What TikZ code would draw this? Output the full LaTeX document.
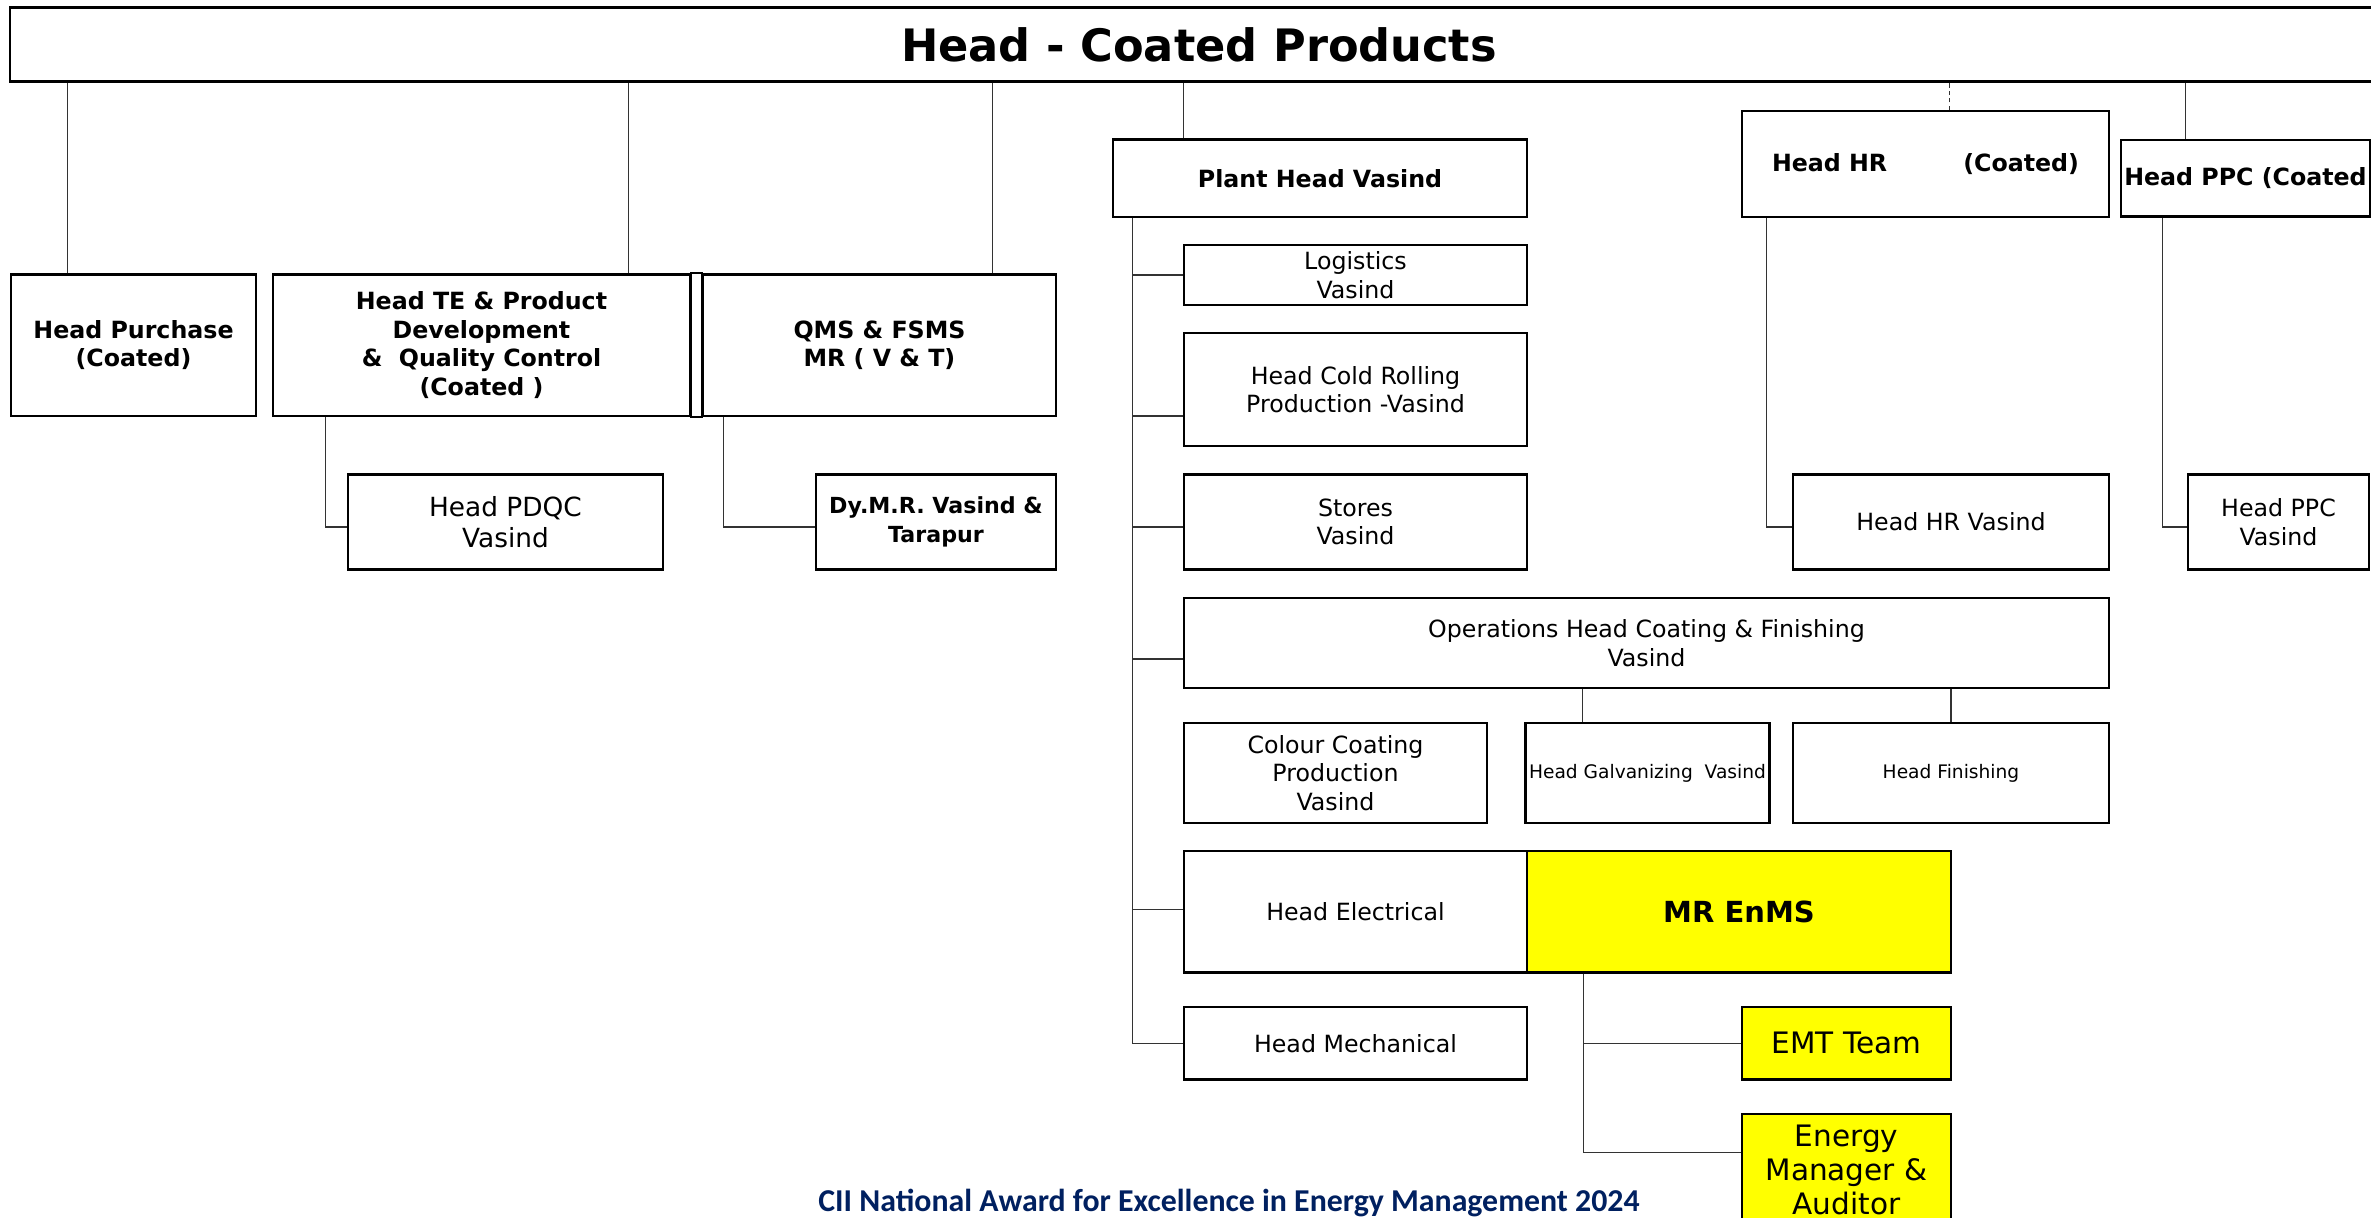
\documentclass[tikz,border=0pt]{standalone}
\usepackage{fontspec}
\setmainfont{DejaVu Sans}
\newfontfamily\awardfont{Carlito}
\usetikzlibrary{positioning, calc}
\definecolor{awardblue}{RGB}{0,32,96}
\definecolor{enmsyellow}{RGB}{255,255,0}

\begin{document}
\begin{tikzpicture}[
        x=0.01cm, y=-0.01cm,
        box/.style={rectangle, draw=black, line width=0.65pt, inner sep=1pt, align=center, font=\fontsize{6.74}{8.1}\selectfont},
        bbox/.style={box, font=\fontsize{6.74}{8.1}\selectfont\bfseries},
        small/.style={box, font=\fontsize{5.3}{6.4}\selectfont},
        hl/.style={box, fill=enmsyellow, font=\fontsize{8.4}{9.7}\selectfont},
        link/.style={draw=black!80, line width=0.3pt}
    ]
        \useasboundingbox (0,0) rectangle (2371,1218);
        \clip (0,0) rectangle (2371,1218);
        \fill[white] (0,0) rectangle (2371,1218);
        \node[bbox, minimum width=23.76cm, minimum height=0.74cm, font=\fontsize{12.7}{15}\selectfont\bfseries] (top) at (1199,44.5) {Head - Coated Products};
        \node[bbox, minimum width=2.45cm, minimum height=1.415cm] (purchase) at (133.5,345.25) {Head Purchase\\(Coated)};
        \node[bbox, minimum width=4.17cm, minimum height=1.415cm] (te) at (481.5,345.25) {Head TE \& Product\\Development\\\&\ \ Quality Control\\(Coated )};
        \node[bbox, minimum width=3.53cm, minimum height=1.415cm] (qms) at (879.5,345.25) {QMS \& FSMS\\MR ( V \& T)};
        \draw[line width=0.65pt] (te.north east) rectangle (qms.south west);
        \node[box, minimum width=3.15cm, minimum height=0.95cm, font=\fontsize{7.5}{8.9}\selectfont] (pdqc) at (505.5,522) {Head PDQC\\Vasind};
        \node[bbox, minimum width=2.40cm, minimum height=0.95cm, font=\fontsize{6.3}{8.1}\selectfont\bfseries] (dymr) at (936,522) {Dy.M.R. Vasind \&\\Tarapur};
        \node[bbox, minimum width=4.14cm, minimum height=0.775cm] (plant) at (1320,178.25) {Plant Head Vasind};
        \node[box, minimum width=3.43cm, minimum height=0.60cm] (logistics) at (1355.5,275) {Logistics\\Vasind};
        \node[box, minimum width=3.43cm, minimum height=1.13cm] (coldroll) at (1355.5,389.5) {Head Cold Rolling\\Production -Vasind};
        \node[box, minimum width=3.43cm, minimum height=0.95cm] (stores) at (1355.5,522) {Stores\\Vasind};
        \node[box, minimum width=9.25cm, minimum height=0.90cm] (ops) at (1646.5,643) {Operations Head Coating \& Finishing\\Vasind};
        \node[box, minimum width=3.03cm, minimum height=1.0cm] (colour) at (1335.5,773) {Colour Coating\\Production\\Vasind};
        \node[small, minimum width=2.41cm, minimum height=1.0cm] (galv) at (1647.5,773) {Head Galvanizing\ \ Vasind};
        \node[small, minimum width=3.16cm, minimum height=1.0cm] (finish) at (1951,773) {Head Finishing};
        \node[box, minimum width=3.43cm, minimum height=1.215cm] (elec) at (1355.5,911.75) {Head Electrical};
        \node[hl, minimum width=4.24cm, minimum height=1.215cm, font=\fontsize{8.25}{9.7}\selectfont\bfseries] (enms) at (1739,911.75) {MR EnMS};
        \node[box, minimum width=3.43cm, minimum height=0.725cm] (mech) at (1355.5,1043.25) {Head Mechanical};
        \node[hl, minimum width=2.09cm, minimum height=0.725cm] (emt) at (1846.5,1043.25) {EMT Team};
        \node[hl, minimum width=2.09cm, minimum height=1.12cm] (energy) at (1846.5,1170) {Energy\\Manager \&\\Auditor};
        \node[bbox, minimum width=3.67cm, minimum height=1.06cm] (hr) at (1925.5,164) {Head HR\hspace{0.76cm}(Coated)};
        \node[bbox, minimum width=2.47cm, minimum height=0.765cm] (ppc) at (2245.5,178.25) {Head PPC (Coated};
        \node[box, minimum width=3.16cm, minimum height=0.95cm] (hrvas) at (1951,522) {Head HR Vasind};
        \node[box, minimum width=1.81cm, minimum height=0.95cm] (ppcvas) at (2278.5,522) {Head PPC\\Vasind};
        \node[font=\awardfont\fontsize{9.05}{10}\selectfont\bfseries, text=awardblue, anchor=base, inner sep=0pt] (award) at (1229,1211.5) {CII National Award for Excellence in Energy Management 2024};
        \draw[link] ([xshift=0.58cm]purchase.north west) -- ([xshift=0.58cm]purchase.north west |- top.south);
        \draw[link] ([xshift=-0.63cm]te.north east) -- ([xshift=-0.63cm]te.north east |- top.south);
        \draw[link] ([xshift=-0.65cm]qms.north east) -- ([xshift=-0.65cm]qms.north east |- top.south);
        \draw[link] ([xshift=0.72cm]plant.north west) -- ([xshift=0.72cm]plant.north west |- top.south);
        \draw[link, dash pattern=on 1.2pt off 0.9pt] ([xshift=2.09cm]hr.north west) -- ([xshift=2.09cm]hr.north west |- top.south);
        \draw[link] ([xshift=0.66cm]ppc.north west) -- ([xshift=0.66cm]ppc.north west |- top.south);
        \draw[link] ([xshift=0.54cm]te.south west) |- ([yshift=-0.05cm]pdqc.west);
        \draw[link] ([xshift=0.22cm]qms.south west) |- ([yshift=-0.05cm]dymr.west);
        \draw[link] ([xshift=0.21cm]plant.south west) |- (logistics.west);
        \draw[link] ([xshift=0.21cm]plant.south west) |- ([yshift=-0.265cm]coldroll.west);
        \draw[link] ([xshift=0.21cm]plant.south west) |- ([yshift=-0.05cm]stores.west);
        \draw[link] ([xshift=0.21cm]plant.south west) |- ([yshift=-0.16cm]ops.west);
        \draw[link] ([xshift=0.21cm]plant.south west) |- ([yshift=0.02cm]elec.west);
        \draw[link] ([xshift=0.21cm]plant.south west) |- (mech.west);
        \draw[link] ([xshift=0.58cm]galv.north west) -- ([xshift=0.58cm]galv.north west |- ops.south);
        \draw[link] (finish.north) -- (finish.north |- ops.south);
        \draw[link] ([xshift=0.26cm]hr.south west) |- ([yshift=-0.05cm]hrvas.west);
        \draw[link] ([xshift=0.43cm]ppc.south west) |- ([yshift=-0.05cm]ppcvas.west);
        \draw[link] ([xshift=0.58cm]enms.south west) |- (emt.west);
        \draw[link] ([xshift=0.58cm]enms.south west) |- ([yshift=0.175cm]energy.west);
    \end{tikzpicture}
\end{document}
